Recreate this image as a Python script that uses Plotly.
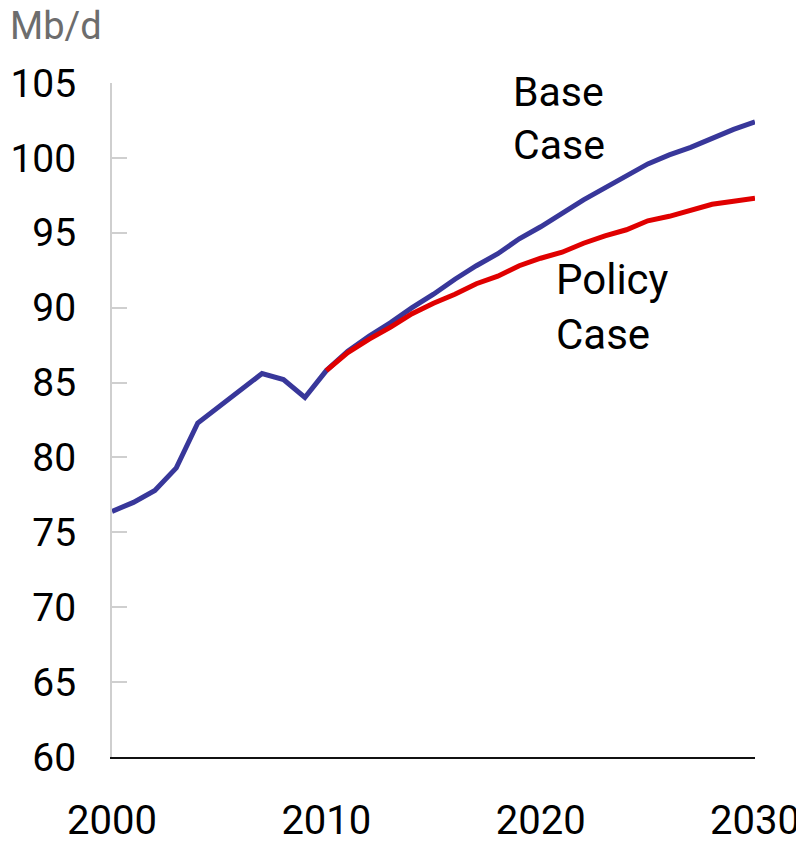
import plotly.graph_objects as go

hist_years = list(range(2000, 2011))
hist_vals = [76.4, 77.0, 77.8, 79.3, 82.3, 83.4, 84.4, 85.6, 85.2, 84.0, 85.8]

proj_years = list(range(2010, 2031))
base_vals = [85.8, 87.1, 88.1, 89.0, 90.0, 90.9, 91.9, 92.8, 93.6, 94.6, 95.4,
             96.3, 97.2, 98.0, 98.8, 99.6, 100.2, 100.7, 101.3, 101.9, 102.4]
policy_vals = [85.8, 87.0, 87.9, 88.7, 89.6, 90.3, 90.9, 91.6, 92.1, 92.8, 93.3,
               93.7, 94.3, 94.8, 95.2, 95.8, 96.1, 96.5, 96.9, 97.1, 97.3]

x_ticks = [2000, 2010, 2020, 2030]
y_ticks = [60, 65, 70, 75, 80, 85, 90, 95, 100, 105]

BLUE = "#38379a"
RED = "#e00000"
FONT = "Roboto"

fig = go.Figure()
fig.add_trace(go.Scatter(x=hist_years[:-1] + proj_years, y=hist_vals[:-1] + base_vals,
                         mode="lines", line=dict(color=BLUE, width=5),
                         cliponaxis=False, showlegend=False, hoverinfo="skip"))
fig.add_trace(go.Scatter(x=proj_years, y=policy_vals,
                         mode="lines", line=dict(color=RED, width=5),
                         cliponaxis=False, showlegend=False, hoverinfo="skip"))

fig.add_annotation(x=2018.62, y=102.6, xref="x", yref="y", text="Base<br>Case",
                   showarrow=False, xanchor="left", yanchor="middle", align="left",
                   font=dict(family=FONT, size=41, color="black"))
fig.add_annotation(x=2020.63, y=90.07, xref="x", yref="y", text="Policy<br>Case",
                   showarrow=False, xanchor="left", yanchor="middle", align="left",
                   font=dict(family=FONT, size=42, color="black"))
fig.add_annotation(x=-104 / 643, y=1 + 57 / 674, xref="paper", yref="paper", text="Mb/d",
                   showarrow=False, xanchor="left", yanchor="middle",
                   font=dict(family=FONT, size=38, color="#6d6d6d"))

# page body has an 8px margin, so the figure is sized to fit inside the window
fig.update_layout(
    width=796, height=837,
    margin=dict(l=104, r=49, t=75, b=88, autoexpand=False),
    paper_bgcolor="white", plot_bgcolor="white",
    font=dict(family=FONT, size=40, color="black"),
    showlegend=False,
)

fig.update_xaxes(range=[2000, 2030], tickvals=x_ticks, ticktext=[str(v) for v in x_ticks],
                 automargin=False,
                 showgrid=False, zeroline=False, showline=True, linecolor="#111111",
                 linewidth=2, ticks="", ticklabelstandoff=27,
                 tickfont=dict(family=FONT, size=40, color="black"))
fig.update_yaxes(range=[60, 105], tickvals=y_ticks, ticktext=[str(v) for v in y_ticks],
                 automargin=False,
                 showgrid=False, zeroline=False, showline=True, linecolor="#cfcfcf",
                 linewidth=2, ticks="inside", ticklen=15, tickwidth=2, tickcolor="#cfcfcf",
                 ticklabelstandoff=26,
                 tickfont=dict(family=FONT, size=39, color="black"))

fig.write_html("out.html")
